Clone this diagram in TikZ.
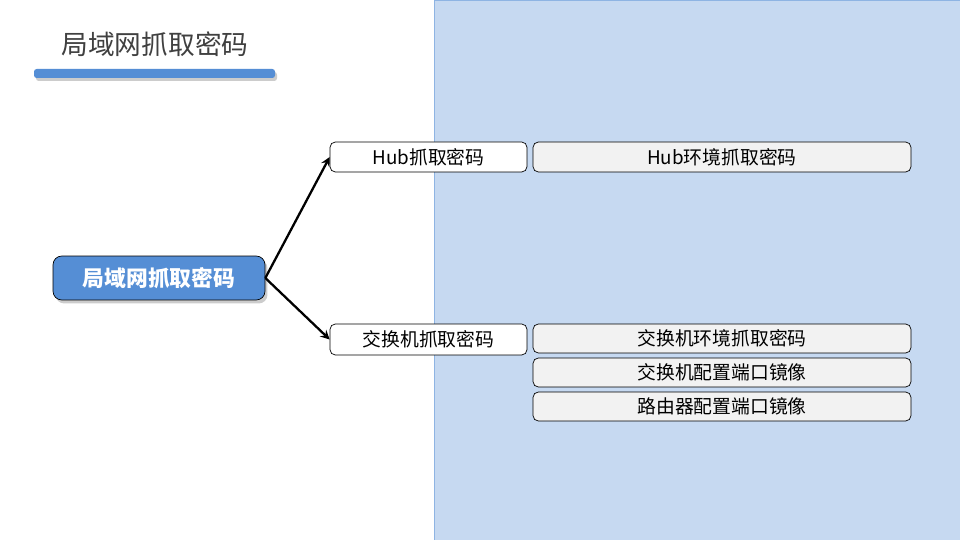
\documentclass[tikz,border=0pt]{standalone}
\usepackage{fontspec}
\setmainfont{Noto Sans CJK SC}
\usetikzlibrary{shadows}
\definecolor{bgblue}{HTML}{C6D9F1}
\definecolor{bgline}{HTML}{8EB4E3}
\definecolor{mainblue}{HTML}{558ED5}
\definecolor{boxgray}{HTML}{F2F2F2}
\definecolor{titlegray}{HTML}{404040}
\tikzset{
  leaf/.style={draw, rounded corners=3pt, minimum height=0.6cm, inner sep=0pt, font=\fontsize{10.7}{12}\selectfont},
  leafwide/.style={leaf, fill=boxgray, minimum width=7.56cm},
  leafmid/.style={leaf, fill=white, minimum width=3.94cm}
}
\begin{document}
\begin{tikzpicture}[x=0.02cm, y=-0.02cm, >=stealth]
      \useasboundingbox (0,0) rectangle (960,540);
      \fill[white] (0,0) rectangle (960,540);
      \draw[bgline, fill=bgblue] (434,0) rectangle (960,540);
      \node[titlegray, font=\fontsize{15.2}{17}\selectfont] (title) at (155,44) {局域网抓取密码};
      \fill[mainblue, rounded corners=1.5pt, drop shadow={opacity=0.4, shadow xshift=0.04cm, shadow yshift=-0.06cm}] (34,69) rectangle (275,78);
      \node[draw, fill=mainblue, rounded corners=5pt, minimum width=4.24cm, minimum height=0.88cm, text=white, font=\fontsize{12.4}{14}\selectfont\bfseries, drop shadow={opacity=0.4, shadow xshift=0.05cm, shadow yshift=-0.07cm}] (root) at (159,278) {局域网抓取密码};
      \node[leafmid] (hub) at (428.5,157) {Hub抓取密码};
      \node[leafmid, minimum height=0.62cm] (sw) at (428.5,339.5) {交换机抓取密码};
      \node[leafwide] (hubenv) at (722,157) {Hub环境抓取密码};
      \node[leafwide, minimum height=0.58cm] (swenv) at (722,338.5) {交换机环境抓取密码};
      \node[leafwide, minimum height=0.58cm] (swport) at (722,372.5) {交换机配置端口镜像};
      \node[leafwide, minimum height=0.58cm] (rtport) at (722,406.5) {路由器配置端口镜像};
      \draw[->, line width=1.3pt] (root.east) -- (hub.west);
      \draw[->, line width=1.3pt] (root.east) -- (sw.west);
    \end{tikzpicture}
\end{document}
